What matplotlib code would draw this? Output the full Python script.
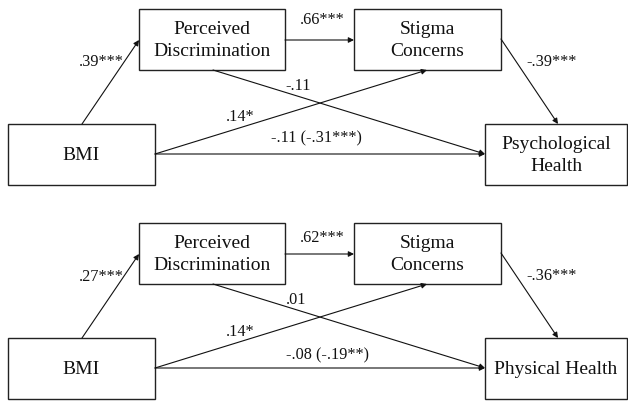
import matplotlib.pyplot as plt
from matplotlib.patches import Rectangle, FancyArrowPatch

plt.rcParams['font.family'] = ['Liberation Serif', 'DejaVu Serif']

# noms des variables et coefficients des deux modèles
noeuds = ["BMI", "Perceived\nDiscrimination", "Stigma\nConcerns", "Outcome"]
issues = ["Psychological\nHealth", "Physical Health"]
chemins = [("BMI", "PD"), ("PD", "SC"), ("SC", "OUT"), ("PD", "OUT"), ("BMI", "SC"), ("BMI", "OUT")]
coef_psy = [".39***", ".66***", "-.39***", "-.11", ".14*", "-.11 (-.31***)"]
coef_phy = [".27***", ".62***", "-.36***", ".01", ".14*", "-.08 (-.19**)"]

# mise en page (pixels, y vers le bas)
boites = {"BMI": (8, 125, 147, 61), "PD": (139, 10, 146, 61),
          "SC": (354, 10, 147, 61), "OUT": (485, 125, 142, 61)}
fleches = [((82, 125), (139, 41)), ((285, 41), (354, 41)), ((501, 40), (558, 125)),
           ((213, 71), (485, 155)), ((155, 155), (427, 71)), ((155, 155), (485, 155))]
pos_coef = [(101, 62), (322, 20), (552, 62), (298, 86), (240, 117), (316, 138)]
decal = [0, 214]
pos_coef_bas = [(101, 63), (322, 24), (552, 62), (296, 86), (240, 118), (327, 141)]

fig = plt.figure(figsize=(6.28, 4.02), dpi=100)
ax = fig.add_axes([0, 0, 1, 1])
ax.set_xlim(0, 628)
ax.set_ylim(402, 0)
ax.axis('off')

cles = ["BMI", "PD", "SC", "OUT"]
for k, (issue, coefs, dy) in enumerate(zip(issues, [coef_psy, coef_phy], decal)):
    noms = noeuds[:3] + [issue]
    for cle, nom in zip(cles, noms):
        x, y, w, h = boites[cle]
        ax.add_patch(Rectangle((x, y + dy), w, h, fill=False, ec='#222222', lw=1.0))
        ax.text(x + w / 2, y + dy + h / 2, nom, ha='center', va='center',
                fontsize=14, linespacing=1.38, color='#111111')
    for (a, b) in fleches:
        ax.add_patch(FancyArrowPatch((a[0], a[1] + dy), (b[0], b[1] + dy),
                                     arrowstyle='-|>', mutation_scale=8,
                                     shrinkA=0, shrinkB=0, lw=0.8, color='#111111'))
    positions = pos_coef if k == 0 else pos_coef_bas
    for txt, (px, py) in zip(coefs, positions):
        ax.text(px, py + dy, txt, ha='center', va='center', fontsize=11.7, color='#111111')

fig.savefig("out.png", dpi=100)
